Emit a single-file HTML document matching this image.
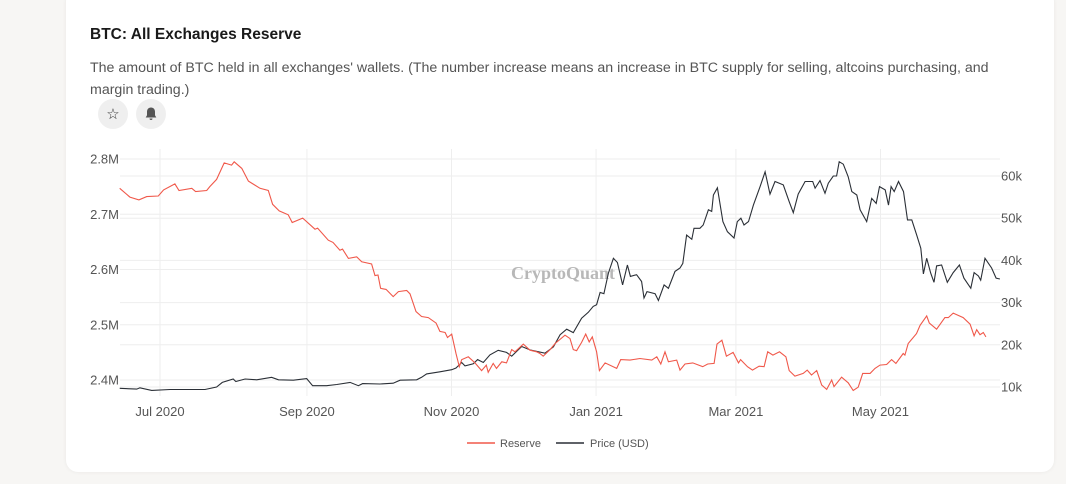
<!DOCTYPE html>
<html><head><meta charset="utf-8">
<style>
body{margin:0;width:1066px;height:484px;background:#f7f6f4;font-family:"Liberation Sans",sans-serif;overflow:hidden;position:relative}
.card{position:absolute;left:66px;top:-10px;width:988px;height:482px;background:#fff;border-radius:12px;box-shadow:0 0 4px rgba(0,0,0,0.06)}
.title{position:absolute;left:90px;top:26px;font-size:15.5px;font-weight:bold;color:#1a1a1a}
.desc{position:absolute;left:90px;top:57px;width:930px;font-size:14.2px;line-height:22px;color:#555}
.btn{position:absolute;top:99px;width:30px;height:30px;border-radius:50%;background:#efefef;display:flex;align-items:center;justify-content:center;font-size:15px;color:#333}
</style></head><body>
<div class="card"></div>
<div class="title">BTC: All Exchanges Reserve</div>
<div class="desc">The amount of BTC held in all exchanges' wallets. (The number increase means an increase in BTC supply for selling, altcoins purchasing, and margin trading.)</div>
<div class="btn" style="left:98px">☆</div>
<div class="btn" style="left:136px"><svg width="12" height="14" viewBox="0 0 12 14"><path d="M6 0.5c-2.6 0-4 2-4 4.3v3.5L0.7 10.5h10.6L10 8.3V4.8C10 2.5 8.6 0.5 6 0.5z M4.5 11.5a1.5 1.5 0 0 0 3 0z" fill="#555"/></svg></div>
<svg id="chart" width="1066" height="484" style="position:absolute;left:0;top:0"></svg>
<script>
// days since 2020-07-01
const resDays=[-17,-12.7,-8.9,-5.6,-0.7,1.5,6.3,8,13.4,15,19.7,21,23.9,27.1,30.2,31.3,34.5,37.3,42.2,45.7,47.5,50.3,54.1,55.8,60.2,65.4,66.5,71,73,75.9,77,79.5,83,85.1,89.3,90.7,92,93.1,95.4,98.4,100.6,104.1,105.5,108,110.4,113.2,116.5,118.1,120.3,121.3,123.1,124.9,126.3,127.3,130.1,132.9,135.7,137.7,138.5,140.6,142,144.2,146.2,148.4,149.8,153.3,156.1,158.9,160.3,161.7,164.6,166.7,170.9,173,174.4,175.8,177.9,179.6,181.1,182.4,184.2,185.4,187.8,192.7,194.4,198.3,202.5,207.5,209.6,211.3,213.1,214.5,218,219.4,221.5,224.8,229,231.1,233.8,235,237.1,239,241.8,244.1,245,247.9,250,252.8,254.9,256.4,258.6,261.4,264.1,265.5,267.9,271.4,273.1,274.9,277.1,279.2,281.3,283.4,284.4,287.6,290.4,292.5,294.6,296.5,299.6,301.7,303.8,306.6,308.7,310.5,313.6,314.3,315.7,319.2,320.7,323.5,324.6,327.7,331.2,332.6,334.7,338.9,341.8,343.5,344.6,346,347.4,348.5];
const resVals=[2.747,2.731,2.726,2.732,2.733,2.744,2.755,2.743,2.747,2.741,2.743,2.750,2.763,2.793,2.789,2.795,2.783,2.760,2.747,2.743,2.718,2.706,2.699,2.685,2.693,2.673,2.675,2.653,2.649,2.635,2.637,2.620,2.623,2.614,2.610,2.589,2.590,2.566,2.564,2.551,2.560,2.562,2.556,2.524,2.515,2.513,2.503,2.488,2.486,2.477,2.483,2.448,2.424,2.437,2.442,2.431,2.417,2.427,2.414,2.430,2.421,2.433,2.431,2.455,2.451,2.465,2.454,2.451,2.448,2.443,2.455,2.466,2.481,2.475,2.455,2.453,2.468,2.483,2.469,2.478,2.451,2.417,2.431,2.421,2.437,2.436,2.439,2.436,2.442,2.429,2.451,2.433,2.436,2.418,2.429,2.431,2.424,2.429,2.430,2.465,2.472,2.443,2.450,2.431,2.437,2.424,2.418,2.425,2.424,2.451,2.445,2.451,2.442,2.417,2.407,2.412,2.418,2.409,2.417,2.391,2.383,2.400,2.388,2.405,2.395,2.381,2.387,2.412,2.412,2.421,2.427,2.428,2.437,2.430,2.448,2.445,2.466,2.484,2.499,2.516,2.503,2.492,2.513,2.513,2.521,2.513,2.501,2.480,2.491,2.482,2.486,2.478];
const priceDays=[-17,-9.8,-8.5,-3.5,4.2,11.3,19,23.9,26.3,30.9,32,35.9,40.8,47.1,50,56.3,61.9,64.4,70.3,74.6,80.2,83.7,85.5,92.8,98.4,101.3,108.3,110.4,112.5,118.1,123.1,124.9,127.3,128.7,132.2,134,136.4,139.2,142.7,146.2,148.4,152.6,156.1,162.4,166,168.8,171.6,174.4,177.9,180.7,182.8,184.2,185.7,187.3,189.2,191.3,193,195.2,197.2,198.5,201.1,203.2,204.2,205.5,208.9,210.3,212.7,214.5,217.3,219.4,220.6,222.2,224.4,225.3,227.8,229.2,231.4,232.8,233.5,235.2,237.5,239.4,242.2,243.6,245.1,246.4,248.3,250.4,253.2,255.3,257.4,259.5,263,265.5,267.2,269.3,272.2,275.4,276.4,278.5,280.6,282,284.1,285.5,286.6,288.3,290.4,291.9,294,295.4,298.2,300.3,302.2,303.6,306,307.4,308.5,309.8,311.6,313.7,315.4,317.2,319.3,321,322.1,323.5,325.2,326.6,327.7,329.8,332.2,334.7,337.3,339.2,342.1,343.5,345.3,346.3,348.1,350.9,352.8,354.4];
const priceVals=[9.7,9.5,9.8,9.2,9.4,9.4,9.4,10.0,11.1,11.9,11.3,11.9,11.7,12.3,11.7,11.6,12.0,10.3,10.3,10.6,11.1,10.3,10.8,10.7,10.9,11.6,11.7,12.3,13.1,13.6,14.1,14.5,15.8,15.0,15.5,16.5,15.8,17.6,18.7,18.2,17.3,19.6,18.8,18.0,19.5,22.4,23.7,22.9,26.3,27.7,29.1,29.5,32.4,32.1,37.0,40.5,39.5,34.2,38.9,36.2,36.6,35.0,31.1,32.6,32.1,30.5,34.2,33.4,37.4,38.2,39.3,46.0,45.0,47.6,47.6,48.4,52.0,51.6,55.5,57.2,49.2,46.8,45.3,49.2,50.0,48.4,49.2,53.1,57.5,61.0,55.7,58.7,57.9,53.9,51.3,55.7,58.7,58.7,57.1,58.9,55.9,58.3,60.0,60.0,63.4,62.8,59.8,56.3,55.5,52.0,49.2,54.7,53.5,57.5,56.7,53.1,57.5,56.3,58.7,56.3,49.6,49.6,46.0,42.9,36.8,40.5,37.0,34.8,38.7,38.9,34.8,37.1,38.9,35.8,33.4,37.1,36.3,35.3,40.5,38.2,35.8,35.6];
const leftTicks=[2.4,2.5,2.6,2.7,2.8];
const leftTickLabels=["2.4M","2.5M","2.6M","2.7M","2.8M"];
const rightTicks=[10,20,30,40,50,60];
const rightTickLabels=["10k","20k","30k","40k","50k","60k"];
const xTickDays=[0,62,123,184,243,304];
const xTickLabels=["Jul 2020","Sep 2020","Nov 2020","Jan 2021","Mar 2021","May 2021"];

const NS="http://www.w3.org/2000/svg";
const svg=document.getElementById('chart');
const X=d=>160+d*2.37;
const YL=v=>380-(v-2.4)*552.5;
const YR=v=>387-(v-10)*4.22;
function mk(tag,attrs,parent){const e=document.createElementNS(NS,tag);for(const k in attrs)e.setAttribute(k,attrs[k]);(parent||svg).appendChild(e);return e;}
const grid=mk('g',{});


xTickDays.forEach((d,i)=>{
  const l=mk('line',{x1:X(d),x2:X(d),y1:149,y2:396,stroke:'#eeeeee','stroke-width':1},grid);
  
  
  const t=mk('text',{x:X(d),y:416,'text-anchor':'middle','font-size':13,fill:'#555'});
  t.textContent=xTickLabels[i];
  
  
});
leftTicks.forEach((v,i)=>{
  const l=mk('line',{x1:120,x2:1000,y1:YL(v),y2:YL(v),stroke:'#eeeeee','stroke-width':1},grid);
  
  
  const t=mk('text',{x:119,y:YL(v)+4.5,'text-anchor':'end','font-size':13,fill:'#555'});
  t.textContent=leftTickLabels[i];
  
  
});
rightTicks.forEach((v,i)=>{
  const l=mk('line',{x1:120,x2:1000,y1:YR(v),y2:YR(v),stroke:'#eeeeee','stroke-width':1},grid);
  
  
  const t=mk('text',{x:1001,y:YR(v)+4.5,'text-anchor':'start','font-size':13,fill:'#555'});
  t.textContent=rightTickLabels[i];
  
  
});
const wm=mk('text',{x:563,y:279,'text-anchor':'middle','font-size':18,'font-weight':'bold','font-family':'"Liberation Serif",serif',fill:'#b8b8b8'});
wm.textContent='CryptoQuant';


const pr=mk('polyline',{points:priceDays.map((d,i)=>X(d).toFixed(1)+','+YR(priceVals[i]).toFixed(1)).join(' '),fill:'none',stroke:'#2a2f36','stroke-width':1.1});


const rs=mk('polyline',{points:resDays.map((d,i)=>X(d).toFixed(1)+','+YL(resVals[i]).toFixed(1)).join(' '),fill:'none',stroke:'#f0584a','stroke-width':1.1});


const lg=mk('g',{});


const l1=mk('g',{},lg);


mk('line',{x1:467,x2:495,y1:443,y2:443,stroke:'#f0584a','stroke-width':1.5},l1);
const t1=mk('text',{x:500,y:447,'font-size':11,fill:'#555'},l1);t1.textContent='Reserve';
const l2=mk('g',{},lg);


mk('line',{x1:556,x2:584,y1:443,y2:443,stroke:'#2a2f36','stroke-width':1.5},l2);
const t2=mk('text',{x:590,y:447,'font-size':11,fill:'#555'},l2);t2.textContent='Price (USD)';
</script>
</body></html>
